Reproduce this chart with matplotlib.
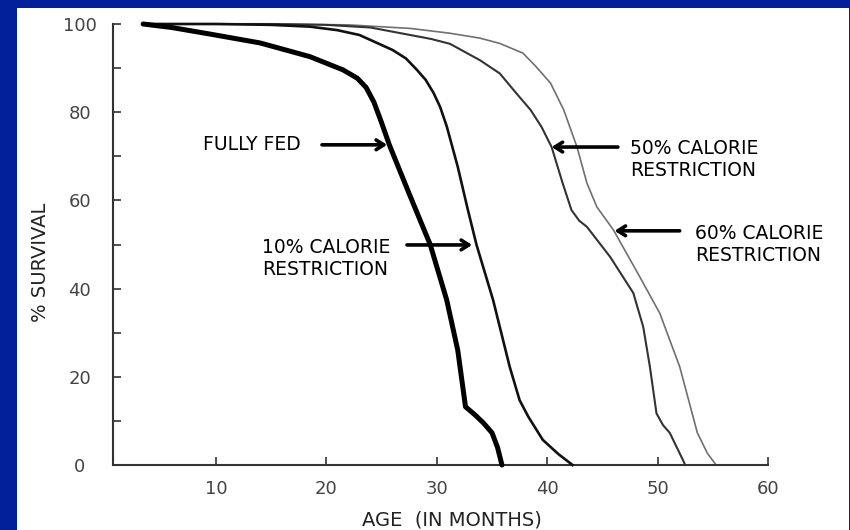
import matplotlib
matplotlib.use("Agg")
import matplotlib.pyplot as plt
from matplotlib.patches import Rectangle

# ---- data ----
fully_fed_x = [3.4, 6, 9.5, 14, 18.5, 21.5, 22.8, 23.6, 24.3, 25.0, 25.7, 27.5, 29.4, 30.9, 31.9, 32.6, 33.4, 34.2, 35.0, 35.5, 35.9]
fully_fed_y = [100, 99.2, 97.7, 95.7, 92.6, 89.6, 87.7, 85.6, 82.3, 77.6, 72.6, 61.5, 50, 37.4, 26, 13.2, 11.5, 9.6, 7.3, 4, 0]

cr10_x = [3.4, 10, 15, 18.5, 21, 23, 26, 27.2, 28.2, 29.0, 29.7, 30.3, 30.9, 31.9, 32.8, 33.6, 35.1, 36.6, 37.5, 38.3, 39.6, 41, 42.3]
cr10_y = [100, 100, 99.8, 99.4, 98.6, 97.5, 94.1, 92.2, 89.6, 87.3, 84.4, 81.2, 76.8, 67.6, 58, 49.9, 37.4, 22.3, 14.7, 10.9, 5.7, 2.5, 0]

cr50_x = [3.4, 15, 20, 24, 27.6, 29.5, 31.2, 33.9, 35.7, 37.2, 38.5, 39.5, 40.4, 41.4, 42.2, 42.9, 43.6, 45.7, 47.8, 48.7, 49.3, 49.9, 50.5, 51.1, 52.3, 52.5]
cr50_y = [100, 100, 99.8, 99.2, 97.5, 96.6, 95.5, 91.8, 88.8, 84.3, 80.5, 76.6, 72.1, 63.9, 57.8, 55.4, 54, 47.2, 39, 31.3, 22.3, 11.7, 9.0, 7.3, 1.1, 0]

cr60_x = [3.4, 15, 22, 27.6, 31.2, 33.9, 35.7, 37.8, 39, 40.3, 41.5, 42.7, 43.6, 44.5, 46, 48.4, 50.2, 52, 53.6, 54.5, 55.3]
cr60_y = [100, 100, 99.8, 99, 97.9, 96.8, 95.6, 93.4, 90.3, 86.6, 80.5, 72.1, 63.9, 58.5, 53.3, 42.6, 34.4, 22.3, 7.3, 2.7, 0]

x_ticks = [10, 20, 30, 40, 50, 60]
y_ticks = [0, 20, 40, 60, 80, 100]
y_minor = [10, 30, 50, 70, 90]

label_ff = "FULLY FED"
label_10 = "10% CALORIE\nRESTRICTION"
label_50 = "50% CALORIE\nRESTRICTION"
label_60 = "60% CALORIE\nRESTRICTION"

W, H = 850, 530
NAVY = "#02209a"

fig = plt.figure(figsize=(W / 100, H / 100), dpi=100)
fig.patch.set_facecolor(NAVY)
fig.patches.append(Rectangle((17 / W, 0), (849 - 17) / W, (530 - 8) / H,
                             transform=fig.transFigure, facecolor="white",
                             edgecolor="none", zorder=-10))

ax = fig.add_axes([113 / W, 1 - 465 / H, (768 - 113) / W, (465 - 24) / H])
ax.set_zorder(5)
ax.set_facecolor("none")
ax.set_xlim(0.67, 60)
ax.set_ylim(0, 100)

for s in ["top", "right"]:
    ax.spines[s].set_visible(False)
for s in ["left", "bottom"]:
    ax.spines[s].set_linewidth(1.5)
    ax.spines[s].set_color("#333333")

ax.plot(fully_fed_x, fully_fed_y, color="black", lw=3.6, solid_joinstyle="round", solid_capstyle="round", clip_on=False, zorder=5)
ax.plot(cr10_x, cr10_y, color="#111111", lw=1.9, solid_joinstyle="round", clip_on=False, zorder=4)
ax.plot(cr50_x, cr50_y, color="#333333", lw=1.5, solid_joinstyle="round", clip_on=False, zorder=3)
ax.plot(cr60_x, cr60_y, color="#707070", lw=1.2, solid_joinstyle="round", clip_on=False, zorder=2)

ax.set_xticks(x_ticks)
ax.set_xticklabels([str(v) for v in x_ticks])
ax.set_yticks(y_ticks)
ax.set_yticklabels([str(v) for v in y_ticks])
ax.set_yticks(y_minor, minor=True)
ax.tick_params(axis="x", direction="in", length=5.5, width=1.2, color="#333333",
               labelsize=13, labelcolor="#444444", pad=11)
ax.tick_params(axis="y", which="both", direction="in", length=6, width=1.2,
               color="#333333", labelsize=13, labelcolor="#444444", pad=24)
for t in ax.get_yticklabels():
    t.set_horizontalalignment("center")

fig.text(40 / W, 1 - 262 / H, "% SURVIVAL", rotation=90, ha="center", va="center",
         fontsize=14, color="#222222")
fig.text(452 / W, 1 - 520 / H, "AGE  (IN MONTHS)", ha="center", va="center",
         fontsize=14, color="#222222")

txt_kw = dict(fontsize=13.5, color="black", ha="left", va="center", linespacing=1.25)
arr_kw = dict(arrowstyle="->,head_length=0.55,head_width=0.35", lw=2.6, color="black",
              shrinkA=0, shrinkB=0)

ax.text(8.8, 72.6, label_ff, **txt_kw)
ax.annotate("", xy=(25.5, 72.6), xytext=(19.6, 72.6), arrowprops=arr_kw)

ax.text(14.2, 46.8, label_10, **txt_kw)
ax.annotate("", xy=(33.2, 49.9), xytext=(27.3, 49.9), arrowprops=arr_kw)

ax.text(47.5, 69.3, label_50, **txt_kw)
ax.annotate("", xy=(40.4, 72.1), xytext=(46.4, 72.1), arrowprops=arr_kw)

ax.text(53.4, 50.0, label_60, **txt_kw)
ax.annotate("", xy=(46.1, 53.1), xytext=(52.0, 53.1), arrowprops=arr_kw)

fig.savefig("out.png", dpi=100, facecolor=fig.get_facecolor())
